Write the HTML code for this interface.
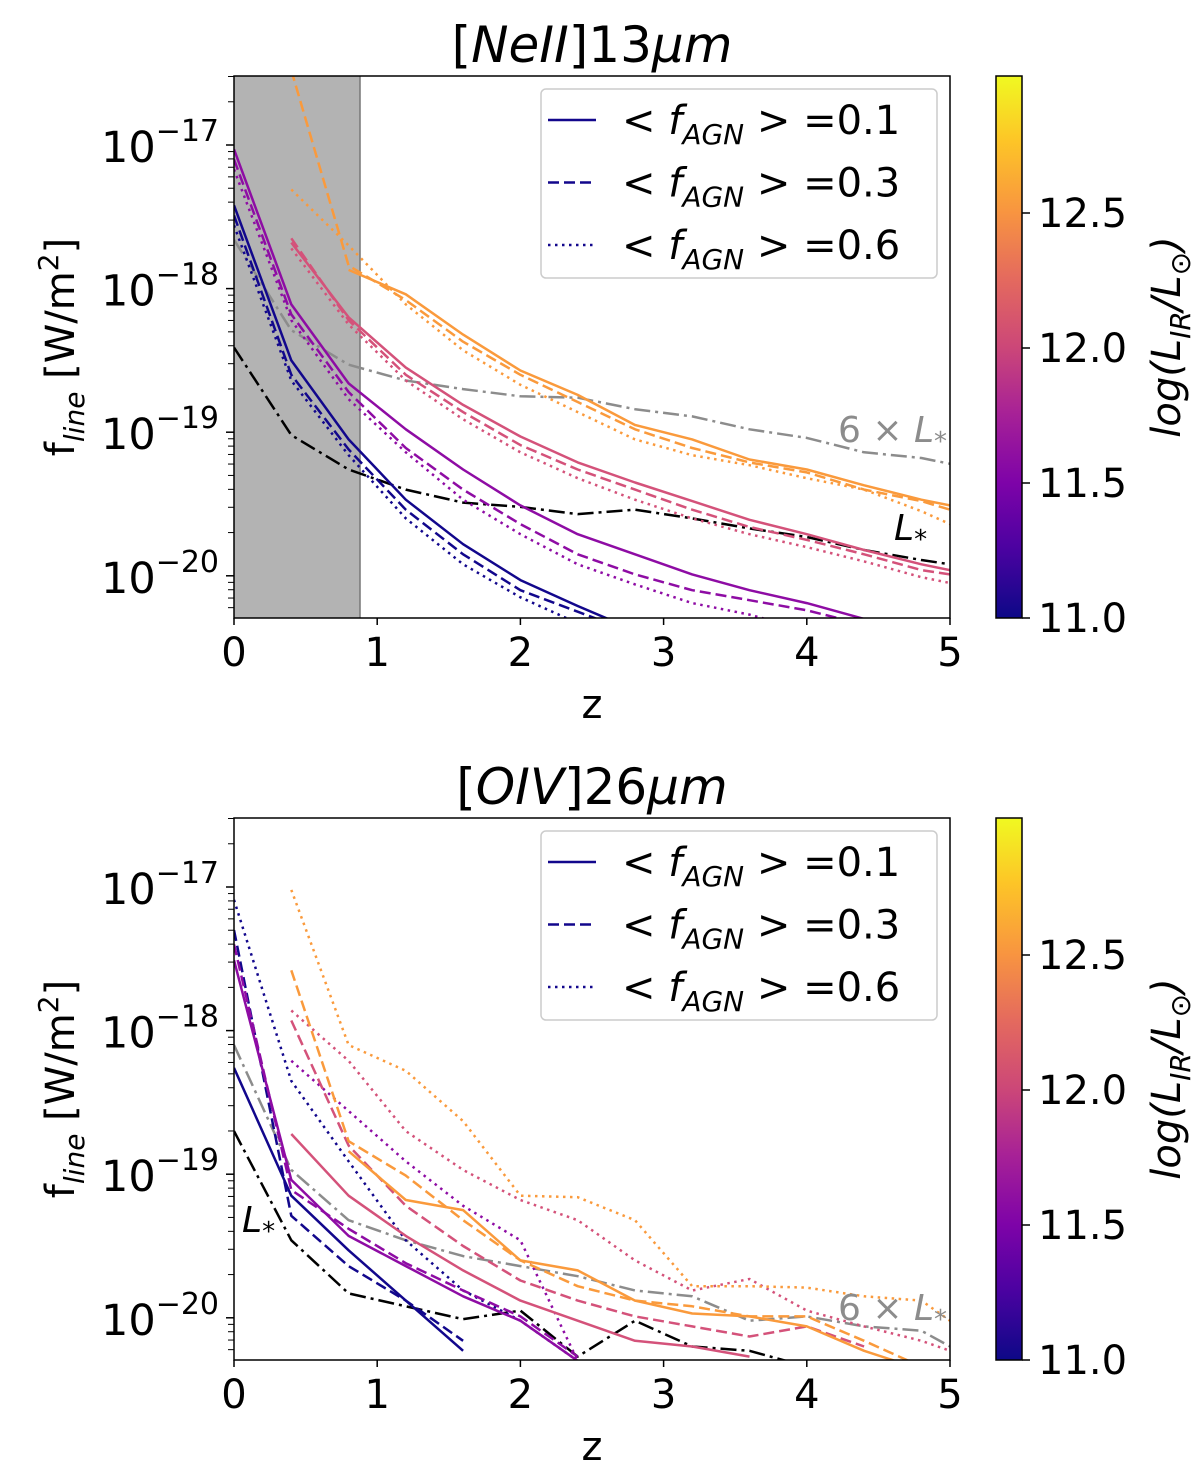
<!DOCTYPE html>
<html><head><meta charset="utf-8"><style>
body{margin:0;background:#fff;}
svg{display:block;font-family:"DejaVu Sans","Liberation Sans",sans-serif;}
</style></head><body>
<svg id="fig" width="1200" height="1481" viewBox="0 0 1200 1481" xmlns="http://www.w3.org/2000/svg">
<defs>
<linearGradient id="plasma" x1="0" y1="1" x2="0" y2="0">
<stop offset="0" stop-color="#0d0887"/><stop offset="0.13" stop-color="#4c02a1"/><stop offset="0.25" stop-color="#7e03a8"/><stop offset="0.38" stop-color="#a82296"/><stop offset="0.5" stop-color="#cc4778"/><stop offset="0.63" stop-color="#e56b5d"/><stop offset="0.75" stop-color="#f89540"/><stop offset="0.88" stop-color="#fdc527"/><stop offset="1" stop-color="#f0f921"/>
</linearGradient>
<clipPath id="clipTop"><rect x="234" y="76" width="716" height="542"/></clipPath>
<clipPath id="clipBot"><rect x="234" y="818" width="716" height="542"/></clipPath>
</defs>
</svg>
<script>
const Z=[0,0.4,0.8,1.2,1.6,2.0,2.4,2.8,3.2,3.6,4.0,4.4,4.8,5.0];
const xTicks=[0,1,2,3,4,5];
const yTicks=[-17,-18,-19,-20];
const cbTicks=["11.0","11.5","12.0","12.5"];
const cbValues=[11.0,11.5,12.0,12.5];
// top panel [NeII] log10 flux
const n_b1=[-17.42,-18.50,-19.05,-19.47,-19.78,-20.03,-20.21,-20.38];
const n_b3=[-17.49,-18.60,-19.12,-19.54,-19.85,-20.10,-20.25,-20.40];
const n_b6=[-17.56,-18.64,-19.16,-19.60,-19.92,-20.15,-20.33];
const n_p1=[-17.03,-18.11,-18.66,-18.98,-19.26,-19.51,-19.71,-19.85,-19.99,-20.10,-20.19,-20.30];
const n_p3=[-17.10,-18.18,-18.72,-19.11,-19.40,-19.64,-19.85,-19.99,-20.10,-20.17,-20.24,-20.34];
const n_p6=[-17.17,-18.22,-18.77,-19.14,-19.47,-19.71,-19.92,-20.06,-20.19,-20.27,-20.38];
const n_k1=[null,-17.68,-18.20,-18.55,-18.81,-19.03,-19.21,-19.35,-19.48,-19.61,-19.71,-19.82,-19.92,-19.96];
const n_k3=[null,-17.65,-18.22,-18.60,-18.86,-19.09,-19.26,-19.40,-19.54,-19.66,-19.75,-19.85,-19.96,-19.99];
const n_k6=[null,-17.72,-18.25,-18.64,-18.91,-19.14,-19.32,-19.47,-19.60,-19.71,-19.80,-19.90,-20.01,-20.05];
const n_o1=[null,null,-17.87,-18.04,-18.32,-18.57,-18.74,-18.95,-19.05,-19.19,-19.26,-19.37,-19.47,-19.51];
const n_o3=[null,-16.48,-17.84,-18.08,-18.37,-18.60,-18.79,-18.98,-19.11,-19.21,-19.28,-19.40,-19.48,-19.54];
const n_o6=[null,-17.31,-17.70,-18.11,-18.43,-18.67,-18.86,-19.05,-19.16,-19.23,-19.32,-19.40,-19.55,-19.64];
const n_L=[-18.41,-19.02,-19.26,-19.40,-19.49,-19.52,-19.57,-19.54,-19.60,-19.67,-19.73,-19.82,-19.89,-19.92];
const n_6L=[-17.66,-18.29,-18.53,-18.64,-18.70,-18.75,-18.76,-18.84,-18.89,-18.98,-19.04,-19.14,-19.18,-19.22];
// bottom panel [OIV]
const o_b1=[-18.26,-19.15,-19.53,-19.88,-20.23];
const o_b3=[-17.30,-19.29,-19.64,-19.88,-20.16];
const o_b6=[-17.09,-18.35,-18.91,-19.46,-19.81,-20.02,-20.30];
const o_p1=[-17.51,-19.04,-19.43,-19.64,-19.85,-20.02,-20.30];
const o_p3=[-17.40,-19.11,-19.38,-19.62,-19.81,-19.99,-20.27];
const o_p6=[null,-18.21,-18.56,-18.91,-19.22,-19.46,-20.30];
const o_k1=[null,-18.72,-19.15,-19.43,-19.67,-19.88,-20.02,-20.16,-20.20,-20.27];
const o_k3=[null,-17.93,-18.80,-19.22,-19.50,-19.74,-19.88,-19.99,-20.06,-20.13,-20.06,-20.20];
const o_k6=[null,-17.86,-18.21,-18.70,-18.97,-19.18,-19.32,-19.60,-19.81,-19.73,-19.95,-20.06,-20.16,-20.23];
const o_o1=[null,null,-18.84,-19.18,-19.25,-19.60,-19.67,-19.88,-19.97,-19.99,-20.06,-20.23,-20.36];
const o_o3=[null,-17.58,-18.77,-19.01,-19.32,-19.60,-19.78,-19.88,-19.92,-19.99,-19.99,-20.16,-20.34];
const o_o6=[null,-17.02,-18.10,-18.28,-18.63,-19.15,-19.16,-19.32,-19.78,-19.78,-19.79,-19.85,-19.88,-20.02];
const o_L=[-18.70,-19.46,-19.83,-19.92,-20.01,-19.95,-20.27,-20.02,-20.20,-20.23,-20.34];
const o_6L=[-18.10,-18.97,-19.32,-19.46,-19.57,-19.64,-19.71,-19.81,-19.85,-20.02,-19.99,-20.06,-20.09,-20.20];

const NS="http://www.w3.org/2000/svg";
const svg=document.getElementById('fig');
function mk(tag,attrs,parent,text){const e=document.createElementNS(NS,tag);for(const k in attrs)e.setAttribute(k,attrs[k]);if(text!==undefined)e.textContent=text;(parent||svg).appendChild(e);return e;}
const C={b:"#12078c",p:"#8e0ca4",k:"#d4527a",o:"#fa9a3c"};
const D={s:"none",d:"11,5",o:"2.5,4.5",dd:"16,5,3,5"};
const X0=234,XW=143.2,DEC=143.6;
function xS(z){return X0+z*XW;}
function makeY(y17){return v=>y17+(-17-v)*DEC;}

function panel(top,y17,title,series,clipId,name,notes){
  const yS=makeY(y17);const bot=top+542;
  const g=mk('g',{},svg);
  
  
  if(name==='neii'){const r=mk('rect',{x:234,y:top,width:126,height:542,fill:"#b3b3b3"},g);
    
    mk('line',{x1:360,y1:top,x2:360,y2:bot,stroke:"#777","stroke-width":1.5},g);}
  const lg=mk('g',{"clip-path":"url(#"+clipId+")"},g);
  series.forEach(s=>{let d="";let started=false;
    s.v.forEach((v,i)=>{if(v===null)return;d+=(started?"L":"M")+xS(Z[i]).toFixed(1)+","+yS(v).toFixed(1);started=true;});
    const p=mk('path',{d:d,fill:"none",stroke:s.c,"stroke-width":2.5,"stroke-dasharray":s.d,"stroke-linejoin":"round"},lg);
    
    });
  mk('rect',{x:234,y:top,width:716,height:542,fill:"none",stroke:"#000","stroke-width":1.5},g);
  xTicks.forEach(t=>{const x=xS(t);mk('line',{x1:x,y1:bot,x2:x,y2:bot+7,stroke:"#000","stroke-width":1.5},g);
    const tl=mk('text',{x:x,y:bot+48,"font-size":40,"text-anchor":"middle"},g,String(t));
    });
  for(let dec=-21;dec<=-16;dec++){for(let m=2;m<=9;m++){const y=yS(dec+Math.log10(m));
    if(y>top&&y<bot)mk('line',{x1:234,y1:y,x2:228,y2:y,stroke:"#000","stroke-width":1},g);}}
  yTicks.forEach(t=>{const y=yS(t);mk('line',{x1:234,y1:y,x2:226,y2:y,stroke:"#000","stroke-width":1.5},g);
    const tl=mk('text',{x:219,y:y+17,"font-size":43,"text-anchor":"end"},g);
    
    mk('tspan',{},tl,"10");mk('tspan',{dy:-21,"font-size":30},tl,"\u2212"+(-t));});
  const tt=mk('text',{x:592,y:top-14,"font-size":50,"text-anchor":"middle"},g);
  
  mk('tspan',{},tt,"[");mk('tspan',{"font-style":"italic"},tt,title[0]);mk('tspan',{},tt,"]"+title[1]);mk('tspan',{"font-style":"italic"},tt,"\u03bcm");
  const xl=mk('text',{x:592,y:bot+100,"font-size":40,"text-anchor":"middle"},g,"z");
  
  const cy=top+271;
  const yl=mk('text',{x:0,y:0,"font-size":40,"text-anchor":"middle",transform:"translate(74,"+cy+") rotate(-90)"},g);
  
  mk('tspan',{},yl,"f");mk('tspan',{dy:10,"font-size":28,"font-style":"italic"},yl,"line");mk('tspan',{dy:-10},yl," [W/m");mk('tspan',{dy:-16,"font-size":28},yl,"2");mk('tspan',{dy:16},yl,"]");
  // legend
  const lgd=mk('g',{},g);
  mk('rect',{x:541,y:top+13,width:396,height:189,rx:5,fill:"#fff",stroke:"#ccc","stroke-width":1.5},lgd);
  [["s","0.1"],["d","0.3"],["o","0.6"]].forEach((e,i)=>{const y=top+44+i*62.5;
    const it=mk('g',{},lgd);
    mk('line',{x1:548,y1:y,x2:596,y2:y,stroke:C.b,"stroke-width":2.5,"stroke-dasharray":D[e[0]]},it);
    const t=mk('text',{x:622,y:y+14,"font-size":40},it);
    mk('tspan',{},t,"< ");mk('tspan',{"font-style":"italic"},t,"f");mk('tspan',{dy:10,"font-size":28,"font-style":"italic"},t,"AGN");mk('tspan',{dy:-10},t," > ="+e[1]);});
  notes.forEach(n=>{const t=mk('text',{x:n.x,y:n.y,"font-size":36,fill:n.c},g);
    
    if(n.six){mk('tspan',{},t,"6 \u00d7 ");}
    mk('tspan',{"font-style":"italic"},t,"L");mk('tspan',{dy:8,"font-size":26},t,"*");});
  // colorbar
  const cb=mk('g',{},g);
  mk('rect',{x:996,y:top,width:26,height:542,fill:"url(#plasma)",stroke:"#000","stroke-width":1.5},cb);
  const cS=v=>bot-(v-11.0)*270;
  cbValues.forEach((v,i)=>{const y=cS(v);mk('line',{x1:1022,y1:y,x2:1030,y2:y,stroke:"#000","stroke-width":1.5},cb);
    const t=mk('text',{x:1038,y:y+14,"font-size":40},cb,cbTicks[i]);
    });
  const cl=mk('text',{x:0,y:0,"font-size":40,"text-anchor":"middle","font-style":"italic",transform:"translate(1180,"+(cy-10)+") rotate(-90)"},cb);
  
  mk('tspan',{},cl,"log(L");mk('tspan',{dy:10,"font-size":28},cl,"IR");mk('tspan',{dy:-10},cl,"/L");mk('tspan',{dy:10,"font-size":28},cl,"\u2299");mk('tspan',{dy:-10},cl,")");
}
function S(v,c,d,n){return {v:v,c:c,d:d,n:n};}
panel(76,145,["NeII","13"],[
 S(n_6L,"#8c8c8c",D.dd,"six-lstar-line"),S(n_L,"#000",D.dd,"lstar-line"),
 S(n_b1,C.b,D.s,"line-11-f01"),S(n_b3,C.b,D.d,"line-11-f03"),S(n_b6,C.b,D.o,"line-11-f06"),
 S(n_p1,C.p,D.s,"line-115-f01"),S(n_p3,C.p,D.d,"line-115-f03"),S(n_p6,C.p,D.o,"line-115-f06"),
 S(n_k1,C.k,D.s,"line-12-f01"),S(n_k3,C.k,D.d,"line-12-f03"),S(n_k6,C.k,D.o,"line-12-f06"),
 S(n_o1,C.o,D.s,"line-126-f01"),S(n_o3,C.o,D.d,"line-126-f03"),S(n_o6,C.o,D.o,"line-126-f06")
],"clipTop","neii",[{x:838,y:442,c:"#8c8c8c",six:true,n:"six-lstar-label"},{x:894,y:540,c:"#000",n:"lstar-label"}]);
panel(818,887,["OIV","26"],[
 S(o_6L,"#8c8c8c",D.dd,"six-lstar-line"),S(o_L,"#000",D.dd,"lstar-line"),
 S(o_b1,C.b,D.s,"line-11-f01"),S(o_b3,C.b,D.d,"line-11-f03"),S(o_b6,C.b,D.o,"line-11-f06"),
 S(o_p1,C.p,D.s,"line-115-f01"),S(o_p3,C.p,D.d,"line-115-f03"),S(o_p6,C.p,D.o,"line-115-f06"),
 S(o_k1,C.k,D.s,"line-12-f01"),S(o_k3,C.k,D.d,"line-12-f03"),S(o_k6,C.k,D.o,"line-12-f06"),
 S(o_o1,C.o,D.s,"line-126-f01"),S(o_o3,C.o,D.d,"line-126-f03"),S(o_o6,C.o,D.o,"line-126-f06")
],"clipBot","oiv",[{x:838,y:1320,c:"#8c8c8c",six:true,n:"six-lstar-label"},{x:242,y:1232,c:"#000",n:"lstar-label"}]);
</script>
</body></html>
